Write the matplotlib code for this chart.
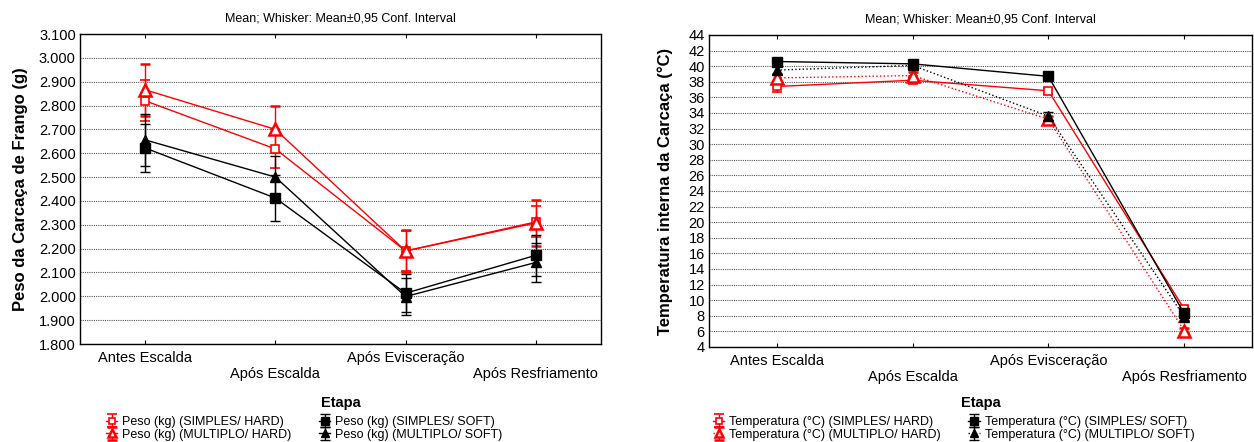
"""Peso e temperatura da carcaça por etapa (média ± IC 95%)."""

import matplotlib

matplotlib.use("Agg")
import matplotlib.pyplot as plt
from matplotlib.ticker import FixedLocator, FuncFormatter

ETAPAS = ["Antes Escalda", "Após Escalda", "Após Evisceração", "Após Resfriamento"]

# peso (kg): média e meia largura do IC 95%
peso_simples_hard = [2.820, 2.618, 2.190, 2.312]
peso_simples_hard_ci = [0.086, 0.082, 0.085, 0.065]
peso_multiplo_hard = [2.866, 2.700, 2.190, 2.308]
peso_multiplo_hard_ci = [0.110, 0.096, 0.087, 0.095]
peso_simples_soft = [2.622, 2.412, 2.013, 2.172]
peso_simples_soft_ci = [0.100, 0.095, 0.080, 0.085]
peso_multiplo_soft = [2.656, 2.500, 1.999, 2.142]
peso_multiplo_soft_ci = [0.110, 0.090, 0.078, 0.082]

# temperatura interna (°C)
temp_simples_hard = [37.4, 38.2, 36.85, 8.9]
temp_simples_hard_ci = [0.7, 0.3, 0.4, 0.3]
temp_multiplo_hard = [38.5, 38.8, 33.2, 6.1]
temp_multiplo_hard_ci = [0.5, 0.4, 0.4, 0.3]
temp_simples_soft = [40.6, 40.3, 38.7, 8.3]
temp_simples_soft_ci = [0.4, 0.3, 0.3, 0.4]
temp_multiplo_soft = [39.5, 40.1, 33.6, 7.9]
temp_multiplo_soft_ci = [0.5, 0.3, 0.5, 0.4]

PESO_TICKS = [1.8, 1.9, 2.0, 2.1, 2.2, 2.3, 2.4, 2.5, 2.6, 2.7, 2.8, 2.9, 3.0, 3.1]
TEMP_TICKS = list(range(4, 46, 2))

GRUPOS = ["SIMPLES/ HARD", "MULTIPLO/ HARD", "SIMPLES/ SOFT", "MULTIPLO/ SOFT"]
STYLES = {
    "SIMPLES/ HARD": dict(color="red", marker="s", mfc="white", ms=6, mew=1.2),
    "MULTIPLO/ HARD": dict(color="red", marker="^", mfc="white", ms=8, mew=1.8),
    "SIMPLES/ SOFT": dict(color="black", marker="s", mfc="black", ms=6.5, mew=1),
    "MULTIPLO/ SOFT": dict(color="black", marker="^", mfc="black", ms=7, mew=1),
}

TITLE = "Mean; Whisker: Mean\u00b10,95 Conf. Interval"
W, H = 1254, 442

plt.rcParams.update(
    {
        "font.family": ["Liberation Sans", "DejaVu Sans"],
        "font.size": 10.5,
        "axes.linewidth": 1.0,
        "figure.facecolor": "white",
    }
)


def _setup_axes(ax, ticks, fmt, ylabel, ylabel_x, bottom_px, height_px):
    n = len(ETAPAS)
    ax.set_xlim(-0.5, n - 0.5)
    ax.set_xticks(range(n))
    ax.set_xticklabels([("\n" + e) if i % 2 else e for i, e in enumerate(ETAPAS)])
    ax.tick_params(axis="x", direction="in", top=True, length=3, pad=5,
                   labelsize=10.5)
    ax.set_ylim(ticks[0], ticks[-1])
    ax.yaxis.set_major_locator(FixedLocator(ticks))
    ax.yaxis.set_major_formatter(FuncFormatter(fmt))
    ax.tick_params(axis="y", direction="in", length=0, pad=3, labelsize=10.5)
    ax.grid(axis="y", color="#555555", linestyle=(0, (1, 1)), linewidth=0.8)
    ax.set_axisbelow(True)
    ax.set_title(TITLE, fontsize=9, pad=9)
    ax.set_ylabel(ylabel, fontsize=12, fontweight="bold")
    ax.yaxis.set_label_coords(ylabel_x, 0.5)
    ax.set_xlabel("Etapa", fontsize=10.5, fontweight="bold")
    ax.xaxis.set_label_coords(0.5, (bottom_px - 396) / height_px)


def _plot_panel(ax, series, prefix, linestyles, legend_left_px):
    handles = []
    for grupo, (vals, ci) in zip(GRUPOS, series):
        st = STYLES[grupo]
        h = ax.errorbar(
            range(len(vals)), vals, yerr=ci,
            color=st["color"], marker=st["marker"], mfc=st["mfc"],
            mec=st["color"], ms=st["ms"], mew=st["mew"],
            linestyle=linestyles[grupo], linewidth=1.0,
            elinewidth=1.0, capsize=3.5, capthick=1.0,
            label=f"{prefix} ({grupo})",
        )
        handles.append(h)
    ax.legend(
        handles=handles, loc="upper left",
        bbox_to_anchor=(legend_left_px / W, 1 - 416 / H),
        bbox_transform=fig.transFigure,
        ncol=2, frameon=False, fontsize=9, handlelength=0.9,
        handletextpad=0.4, columnspacing=2.2, labelspacing=0.05,
        borderaxespad=0, borderpad=0, markerscale=0.8,
    )


fig = plt.figure(figsize=(W / 100, H / 100), dpi=100)
ax1 = fig.add_axes([80 / W, (H - 344) / H, 521 / W, 310 / H])
ax2 = fig.add_axes([709 / W, (H - 347) / H, 543 / W, 312 / H])

_plot_panel(
    ax1,
    [
        (peso_simples_hard, peso_simples_hard_ci),
        (peso_multiplo_hard, peso_multiplo_hard_ci),
        (peso_simples_soft, peso_simples_soft_ci),
        (peso_multiplo_soft, peso_multiplo_soft_ci),
    ],
    "Peso (kg)",
    {g: "-" for g in GRUPOS},
    106,
)
_setup_axes(ax1, PESO_TICKS, lambda v, _: f"{v:.3f}",
            "Peso da Carcaça de Frango (g)", -0.1, 344, 310)

_plot_panel(
    ax2,
    [
        (temp_simples_hard, temp_simples_hard_ci),
        (temp_multiplo_hard, temp_multiplo_hard_ci),
        (temp_simples_soft, temp_simples_soft_ci),
        (temp_multiplo_soft, temp_multiplo_soft_ci),
    ],
    "Temperatura (°C)",
    {"SIMPLES/ HARD": "-", "MULTIPLO/ HARD": ":",
     "SIMPLES/ SOFT": "-", "MULTIPLO/ SOFT": ":"},
    713,
)
_setup_axes(ax2, TEMP_TICKS, lambda v, _: f"{v:.0f}",
            "Temperatura interna da Carcaça (°C)", -0.066, 347, 312)

fig.savefig("out.png", dpi=100)
